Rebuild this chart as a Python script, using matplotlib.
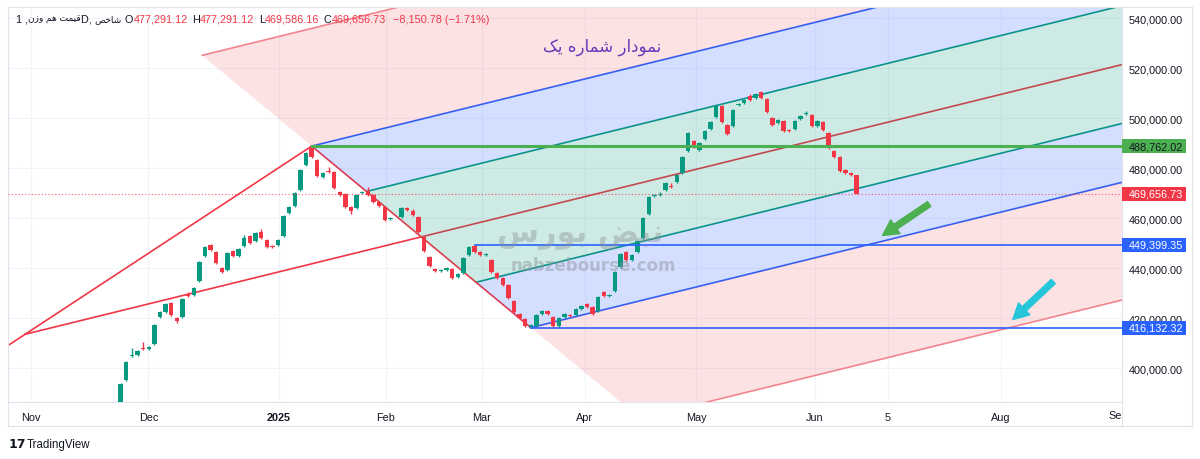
import numpy as np
import matplotlib
matplotlib.use("Agg")
import matplotlib.pyplot as plt
from matplotlib.lines import Line2D
from matplotlib.patches import Rectangle
from matplotlib.transforms import blended_transform_factory

nan = np.nan

# daily candles, prices in thousands
opens = [385.5, 395.2, 404.8, 405.2, 408.0, 407.6, 409.6, 420.4, 422.4, 426.0,
         420.0, 420.4, 429.6, 429.2, 434.8, 444.8, 449.2, 446.4, 440.0, 439.2,
         446.8, 444.8, 448.8, 452.8, 450.8, 454.4, 451.2, 448.8, 449.2, 452.8,
         462.0, 464.8, 471.2, 481.2, 488.0, 483.2, 476.4, 478.8, 478.4, 470.4,
         469.6, 464.4, 464.0, 470.2, 470.8, 469.2, 466.4, 464.4, 459.6, nan,
         460.4, 464.0, 462.8, 460.4, 452.4, 444.4, 439.6, 438.8, 439.2, 439.6,
         436.4, 438.0, 445.2, 448.8, 446.4, 445.2, 443.2, 438.0, 436.0, 433.2,
         426.8, 421.6, 419.6, 416.6, 416.8, 421.6, 422.8, 420.4, 416.8, 420.4,
         421.2, 421.2, 423.6, 425.6, 424.4, 422.8, 430.4, 429.0, 430.8, 440.4,
         446.4, 443.2, 446.4, 452.0, 461.6, 469.0, 469.4, 471.2, 472.8, 474.4,
         478.0, 486.8, 490.8, 487.2, 491.6, 495.6, 500.4, 504.8, 497.2, 496.8,
         505.4, 506.0, 508.8, 508.0, 510.4, 507.6, 500.0, 498.0, 498.8, 495.2,
         495.6, 499.6, 501.6, 501.2, 496.8, 498.4, 494.0, 486.8, 484.4, 479.2,
         478.0, 477.29112]
closes = [393.6, 402.4, 405.2, 406.8, 407.6, 408.4, 417.2, 422.4, 425.6, 421.2,
          418.8, 427.6, 428.8, 432.0, 442.4, 448.4, 447.2, 442.0, 438.4, 446.0,
          444.8, 447.6, 452.0, 450.0, 454.0, 452.0, 448.4, 448.4, 451.2, 460.8,
          464.4, 470.0, 479.2, 486.0, 484.4, 476.8, 478.0, 478.4, 472.0, 469.2,
          464.4, 462.8, 469.2, 470.6, 469.2, 466.4, 464.8, 459.2, 460.0, nan,
          464.0, 463.2, 461.2, 454.4, 446.8, 440.8, 438.8, 439.2, 440.0, 436.0,
          437.6, 444.0, 448.4, 446.4, 445.2, 445.6, 438.4, 436.0, 433.2, 428.0,
          422.4, 420.0, 416.9, 417.4, 421.2, 422.8, 421.6, 416.8, 420.0, 421.6,
          420.8, 423.6, 424.8, 424.4, 421.6, 428.4, 428.8, 429.4, 438.4, 445.6,
          443.2, 445.2, 450.8, 460.0, 468.4, 469.4, 469.8, 474.0, 472.4, 477.2,
          484.4, 494.0, 488.4, 490.0, 494.8, 498.4, 504.8, 498.4, 493.6, 503.2,
          505.8, 507.2, 507.2, 509.6, 508.0, 502.4, 497.2, 499.2, 494.8, 494.8,
          498.8, 500.8, 502.0, 496.8, 498.8, 495.2, 488.0, 484.4, 478.8, 478.0,
          477.2, 469.65673]
highs = [394.0, 402.8, 408.0, 407.2, 410.4, 408.8, 417.6, 422.8, 426.0, 426.4,
         420.4, 428.0, 430.4, 432.4, 442.8, 448.8, 449.6, 446.8, 440.4, 446.4,
         447.2, 448.0, 453.2, 453.2, 454.4, 455.6, 451.6, 449.2, 451.6, 461.2,
         464.8, 470.4, 479.6, 486.4, 488.76202, 483.6, 478.4, 480.4, 478.8, 470.8,
         470.0, 464.8, 469.6, 471.0, 472.4, 469.6, 466.8, 464.8, 460.4, nan,
         464.4, 464.4, 463.6, 460.8, 452.8, 444.8, 440.0, 439.6, 440.4, 440.0,
         438.0, 444.4, 448.8, 449.39935, 446.8, 446.0, 443.6, 438.4, 436.4, 433.6,
         427.2, 422.0, 420.0, 417.8, 421.6, 423.2, 423.2, 420.8, 420.4, 422.0,
         421.6, 424.0, 425.2, 426.0, 424.8, 428.8, 430.8, 429.8, 438.8, 446.0,
         446.8, 445.6, 451.2, 460.4, 468.8, 469.8, 470.4, 474.4, 474.0, 477.6,
         484.8, 494.4, 491.2, 490.4, 495.2, 498.8, 505.2, 505.2, 497.6, 503.6,
         506.2, 507.6, 509.6, 510.0, 510.8, 508.0, 500.4, 499.6, 499.2, 495.6,
         499.2, 501.2, 502.8, 501.6, 499.2, 498.8, 494.4, 487.2, 484.8, 479.6,
         478.4, 477.29112]
lows = [385.0, 394.8, 404.4, 404.8, 407.2, 407.2, 409.2, 420.0, 422.0, 420.8,
        418.0, 420.0, 428.4, 428.8, 434.4, 444.4, 446.8, 441.6, 438.0, 438.8,
        444.4, 444.4, 448.4, 449.6, 450.4, 451.6, 448.0, 448.0, 448.8, 452.4,
        461.6, 464.4, 470.8, 480.8, 484.0, 476.4, 476.0, 478.0, 471.6, 468.8,
        464.0, 461.6, 463.6, 469.8, 468.8, 466.0, 464.4, 458.8, 459.2, nan,
        460.0, 462.8, 460.8, 454.0, 446.4, 440.4, 438.4, 438.4, 438.8, 435.6,
        436.0, 437.6, 444.8, 446.0, 444.8, 444.8, 438.0, 435.6, 432.8, 427.6,
        422.0, 419.6, 416.5, 416.13232, 416.4, 421.2, 421.2, 416.4, 416.4, 420.0,
        420.4, 420.8, 423.2, 424.0, 421.2, 422.4, 428.4, 428.6, 430.4, 440.0,
        442.8, 442.8, 446.0, 451.6, 461.2, 468.6, 469.0, 470.8, 472.0, 474.0,
        477.6, 486.4, 488.0, 486.8, 491.2, 495.2, 500.0, 498.0, 493.2, 496.4,
        505.0, 505.6, 506.8, 507.6, 507.6, 502.0, 496.8, 497.6, 494.4, 494.4,
        495.2, 499.2, 501.2, 496.4, 496.4, 494.8, 487.6, 484.0, 478.4, 477.6,
        476.8, 469.58616]

time_labels = ["Nov", "Dec", "2025", "Feb", "Mar", "Apr", "May", "Jun", "5", "Aug"]
time_ticks = [-16.0, 4.95, 28.2, 47.2, 64.3, 82.6, 102.4, 123.6, 136.6, 156.7]
price_ticks = [400000, 420000, 440000, 460000, 480000, 500000, 520000, 540000]

# pitchfork anchors (bar index, price)
pf_a = (-17.0, 413500.0)
pf_b = (34.0, 488762.02)
pf_c = (73.0, 416132.32)

# horizontal lines: value, start bar, colour
level_lines = [(488762.02, 34, "#4caf50"), (449399.35, 63, "#2962ff"), (416132.32, 73, "#2962ff")]
last_price = 469656.73

green_arrow = [(143.9, 465600), (135.6, 453000)]
cyan_arrow = [(166.0, 434600), (158.8, 419400)]

title_fa = "نمودار شماره یک"
symbol_fa = ["قیمت هم وزن", "شاخص"]
ohlc = ["477,291.12", "477,291.12", "469,586.16", "469,656.73", "−8,150.78 (−1.71%)"]

RED = "#f23645"
GREEN = "#089981"
BLUE = "#2962ff"
DARK = "#131722"

_FORMS = {
    "ا": ("\uFE8D", "\uFE8E", None, None),
    "ب": ("\uFE8F", "\uFE90", "\uFE91", "\uFE92"),
    "ت": ("\uFE95", "\uFE96", "\uFE97", "\uFE98"),
    "خ": ("\uFEA5", "\uFEA6", "\uFEA7", "\uFEA8"),
    "د": ("\uFEA9", "\uFEAA", None, None),
    "ر": ("\uFEAD", "\uFEAE", None, None),
    "ز": ("\uFEAF", "\uFEB0", None, None),
    "س": ("\uFEB1", "\uFEB2", "\uFEB3", "\uFEB4"),
    "ش": ("\uFEB5", "\uFEB6", "\uFEB7", "\uFEB8"),
    "ص": ("\uFEB9", "\uFEBA", "\uFEBB", "\uFEBC"),
    "ض": ("\uFEBD", "\uFEBE", "\uFEBF", "\uFEC0"),
    "ق": ("\uFED5", "\uFED6", "\uFED7", "\uFED8"),
    "م": ("\uFEE1", "\uFEE2", "\uFEE3", "\uFEE4"),
    "ن": ("\uFEE5", "\uFEE6", "\uFEE7", "\uFEE8"),
    "ه": ("\uFEE9", "\uFEEA", "\uFEEB", "\uFEEC"),
    "و": ("\uFEED", "\uFEEE", None, None),
    "ی": ("\uFBFC", "\uFBFD", "\uFBFE", "\uFBFF"),
    "ک": ("\uFB8E", "\uFB8F", "\uFB90", "\uFB91"),
}


def shape_fa(s):
    # join persian letters and flip to visual order (no bidi in matplotlib)
    out = []
    for i, ch in enumerate(s):
        f = _FORMS.get(ch)
        if f is None:
            out.append(ch)
            continue
        prev = _FORMS.get(s[i - 1]) if i > 0 else None
        nxt = _FORMS.get(s[i + 1]) if i + 1 < len(s) else None
        jp = prev is not None and prev[2] is not None
        jn = nxt is not None and f[2] is not None
        if jp and jn:
            out.append(f[3])
        elif jp:
            out.append(f[1])
        elif jn:
            out.append(f[2])
        else:
            out.append(f[0])
    return "".join(reversed(out))


plt.rcParams["font.family"] = ["Liberation Sans", "DejaVu Sans"]

W, H = 1200, 460


def fx(px):
    return px / W


def fy(py):
    return 1 - py / H


fig = plt.figure(figsize=(12, 4.6), dpi=100)
ax = fig.add_axes([fx(8.3), fy(403.3), (1121.5 - 8.3) / W, (403.3 - 8.3) / H])
ax.set_xlim(-20.0, 178.14)
ax.set_ylim(386280, 544280)

ax.set_yticks(price_ticks)
ax.set_yticklabels([f"{v:,.2f}" for v in price_ticks])
ax.yaxis.tick_right()
ax.tick_params(axis="y", length=0, pad=5.4, labelsize=7.8, labelcolor=DARK)
ax.set_xticks(time_ticks)
ax.set_xticklabels(time_labels)
ax.tick_params(axis="x", length=0, pad=7, labelsize=7.8, labelcolor=DARK)
for lab in ax.get_xticklabels():
    if lab.get_text() == "2025":
        lab.set_fontweight("bold")
ax.grid(color="#f0f3fa", lw=0.8, zorder=0)
ax.set_axisbelow(True)
for sp in ax.spines.values():
    sp.set_color("#e0e3eb")
    sp.set_linewidth(0.8)

# pitchfork
A = np.array(pf_a)
B = np.array(pf_b)
C = np.array(pf_c)
M = (B + C) / 2
slope = (M[1] - A[1]) / (M[0] - A[0])
XR = 200.0


def P(t):
    return M + t * (C - M)


def far(p):
    return np.array([XR, p[1] + slope * (XR - p[0])])


ax.plot([A[0], XR], [A[1], far(A)[1]], color=RED, lw=1.2, zorder=1)
for t, col in [(-2, "#f28b93"), (-1, BLUE), (-0.5, GREEN), (0.5, GREEN), (1, BLUE), (2, "#f28b93")]:
    p = P(t)
    e = far(p)
    ax.plot([p[0], e[0]], [p[1], e[1]], color=col, lw=1.2, zorder=1)
ax.plot([B[0], C[0]], [B[1], C[1]], color=RED, lw=1.2, zorder=1)
ab = (B[1] - A[1]) / (B[0] - A[0])
ax.plot([-25, B[0]], [A[1] + ab * (-25 - A[0]), B[1]], color=RED, lw=1.2, zorder=1)

for t1, t2, col, al in [(-2, -1, RED, 0.14), (-1, -0.5, BLUE, 0.2), (-0.5, 0, GREEN, 0.2),
                        (0, 0.5, GREEN, 0.2), (0.5, 1, BLUE, 0.2), (1, 2, RED, 0.14)]:
    p1, p2 = P(t1), P(t2)
    e1, e2 = far(p1), far(p2)
    ax.fill([p1[0], p2[0], e2[0], e1[0]], [p1[1], p2[1], e2[1], e1[1]],
            color=col, alpha=al, lw=0, zorder=2)

# candles
o = np.array(opens) * 1000
c = np.array(closes) * 1000
h = np.array(highs) * 1000
lo = np.array(lows) * 1000
idx = np.arange(len(o))
ok = ~np.isnan(o)
cols = np.where(c >= o, GREEN, RED)
ax.vlines(idx[ok], lo[ok], h[ok], colors=cols[ok], lw=1, zorder=3)
ax.bar(idx[ok], np.maximum(np.abs(c - o)[ok], 400), bottom=np.minimum(o, c)[ok],
       width=0.78, color=cols[ok], lw=0, zorder=4)

# horizontal levels
for v, x0, col in level_lines:
    ax.plot([x0, XR], [v, v], color=col, lw=2.2 if col == "#4caf50" else 1.2, zorder=5)
ax.axhline(last_price, color=RED, lw=0.8, ls=(0, (1, 2)), alpha=0.8, zorder=5)

# arrows
for (t0, t1), col in [(green_arrow, "#4caf50"), (cyan_arrow, "#26c6da")]:
    ax.annotate("", xy=t1, xytext=t0, zorder=6,
                arrowprops=dict(arrowstyle="simple,head_length=0.8,head_width=0.85,tail_width=0.3",
                                fc=col, ec=col, mutation_scale=14, shrinkA=0, shrinkB=0))

# price tags on the axis
tr = blended_transform_factory(fig.transFigure, ax.transData)
for v, bg, fg in [(level_lines[0][0], "#4caf50", DARK), (last_price, RED, "white"),
                  (level_lines[1][0], BLUE, "white"), (level_lines[2][0], BLUE, "white")]:
    ax.add_patch(Rectangle((fx(1121.7), v - 2800), (1186 - 1121.7) / W, 5600, transform=tr,
                           fc=bg, ec="none", clip_on=False, zorder=10))
    ax.text(fx(1128.5), v, f"{v:,.2f}", transform=tr, ha="left", va="center",
            color=fg, fontsize=7.8, clip_on=False, zorder=11)

# watermark
fig.text(fx(593), fy(266), "nabzebourse.com", fontsize=12, fontweight="bold",
         color="#8a8f96", alpha=0.45, ha="center", va="center", family=["DejaVu Sans"])
fig.text(fx(580), fy(236), shape_fa("نبض بورس"), fontsize=22, fontweight="bold",
         color="#8a8f96", alpha=0.4, ha="center", va="center", family=["DejaVu Sans"])

# title
fig.text(fx(602), fy(47), shape_fa(title_fa), fontsize=12, color="#673ab7",
         ha="center", va="center", family=["DejaVu Sans"])

# header row
renderer = fig.canvas.get_renderer()
x = 16.0
parts = [("1 ,", DARK, 7.8), (shape_fa(symbol_fa[0]), DARK, 6.6), ("D, ", DARK, 7.8),
         (shape_fa(symbol_fa[1]), DARK, 6.6),
         ("O", DARK, 7.8), (ohlc[0], RED, 7.8), ("H", DARK, 7.8), (ohlc[1], RED, 7.8),
         ("L", DARK, 7.8), (ohlc[2], RED, 7.8), ("C", DARK, 7.8), (ohlc[3], RED, 7.8),
         ("", DARK, 0), (ohlc[4], RED, 7.8)]
for k, (s, col, fs) in enumerate(parts):
    if s == "":
        x += 3
        continue
    t = fig.text(fx(x), fy(20), s, fontsize=fs, color=col, ha="left", va="center",
                 family=["Liberation Sans", "DejaVu Sans"])
    x += t.get_window_extent(renderer).width
    if col == RED:
        x += 4.5
    elif k == 3:
        x += 3

fig.text(fx(1122), fy(416), "Se", fontsize=7.8, color=DARK, ha="right", va="center")

# frame of the price and time scales
for xs, ys in [([8.3, 1191.5], [427.3, 427.3]), ([1191.5, 1191.5], [8.3, 427.3]),
               ([1121.5, 1121.5], [403.3, 427.3]), ([1121.5, 1191.5], [8.3, 8.3]),
               ([8.3, 8.3], [403.3, 427.3])]:
    fig.add_artist(Line2D([fx(v) for v in xs], [fy(v) for v in ys], color="#e0e3eb", lw=0.8))

fig.text(fx(9), fy(445), "17", fontsize=9, fontweight="bold", color=DARK, ha="left", va="center",
         family=["DejaVu Sans"])
fig.text(fx(27), fy(445), "TradingView", fontsize=8.3, color=DARK, ha="left", va="center")

fig.savefig("out.png", dpi=100)
